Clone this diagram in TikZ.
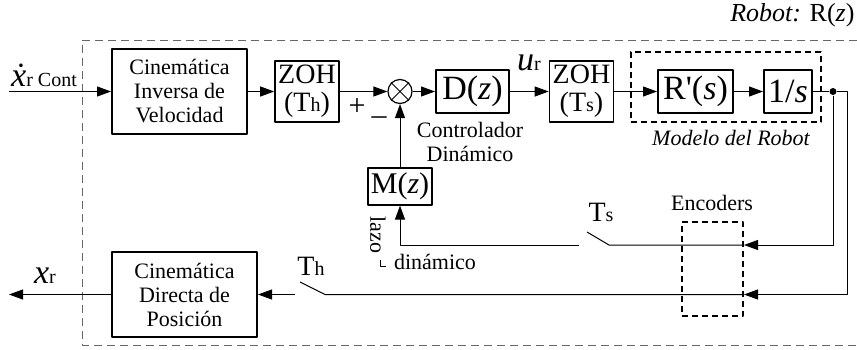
\documentclass[tikz,border=0pt]{standalone}
\usepackage{fontspec}
\setmainfont{Liberation Serif}
\usetikzlibrary{arrows.meta}
\newcommand{\lowtxt}[1]{{\fontsize{10}{10}\selectfont #1}}
\begin{document}
\begin{tikzpicture}[x=0.5pt, y=-0.5pt, line join=round, line width=0.5pt, >={Triangle[length=7pt,width=5pt]},
	txt/.style={font=\fontsize{11}{12}\selectfont, inner sep=1pt, align=center},
	blk/.style={draw, line width=1pt, inner sep=0pt, align=center},
	zoh/.style={blk, line width=0.8pt, minimum width=32pt, minimum height=30.5pt, font=\fontsize{14}{14}\selectfont},
	tf/.style={blk, minimum height=21.5pt, font=\fontsize{17}{17}\selectfont},
	dbox/.style={draw, dashed, dash pattern=on 3pt off 2pt, line width=1pt, inner sep=0pt}]
	\def\ya{91.5}
	\def\yb{245}
	\def\yc{294.5}
	\useasboundingbox (0,0) rectangle (857,349);
	\draw[black!60, dash pattern=on 4pt off 2.5pt] (857,40) -- (82,40) -- (82,345) -- (857,345);
	\node[txt, anchor=east, font=\fontsize{13}{13}\selectfont] (robot) at (857,15) {\textit{Robot:} R(\textit{z})};
	\node[blk, txt, minimum width=67.5pt, minimum height=42.5pt] (inv) at (179.5,\ya) {Cinemática\\Inversa de\\Velocidad};
	\node[zoh] (zohh) at (307,\ya) {ZOH\\(T\lowtxt{h})};
	\node[draw, circle, minimum size=12pt, inner sep=0pt, line width=0.6pt] (sum) at (400,\ya) {};
	\foreach \a in {45,135}
	\draw (sum.\a) -- (sum.\a+180);
	\node[tf, minimum width=36.5pt] (dz) at (472.5,\ya) {D(\textit{z})};
	\node[zoh] (zohs) at (581.5,\ya) {ZOH\\(T\lowtxt{s})};
	\node[dbox, minimum width=95pt, minimum height=35pt] (modelo) at (726,87) {};
	\node[tf, minimum width=37.5pt] (rp) at (695.5,\ya) {R\textquotesingle(\textit{s})};
	\node[tf, minimum width=24pt] (integ) at (788,\ya) {1/\textit{s}};
	\node[circle, fill, minimum size=3.5pt, inner sep=0pt] (dot) at (833,\ya) {};
	\node[blk, line width=0.6pt, minimum width=32pt, minimum height=18.5pt, font=\fontsize{15}{15}\selectfont] (mz) at (400,186.5) {M(\textit{z})};
	\node[dbox, minimum width=30.5pt, minimum height=47pt] (enc) at (712.5,269) {};
	\node[blk, txt, minimum width=72.5pt, minimum height=42.5pt] (dir) at (184.5,\yc) {Cinemática\\Directa de\\Posición};
	\coordinate (in) at (9,\ya);
	\coordinate (out) at (9,\yc);
	\coordinate (c1) at (847,\ya);
	\coordinate (e1) at (enc.east |- 0,\yb);
	\coordinate (e2) at (enc.east |- 0,\yc);
	\coordinate (tsr) at (609,\yb);
	\coordinate (tsb) at (587,232);
	\coordinate (tsl) at (579,\yb);
	\coordinate (thr) at (325,\yc);
	\coordinate (thb) at (300,282);
	\coordinate (thl) at (295,\yc);
	\draw[->] (in) -- (inv);
	\draw[->] (inv) -- (zohh);
	\draw[->] (zohh) -- (sum);
	\draw[->] (sum) -- (dz);
	\draw[->] (dz) -- (zohs);
	\draw[->] (zohs) -- (rp);
	\draw[->] (rp) -- (integ);
	\draw (integ) -- (dot);
	\draw[->] (dot) |- (e1);
	\draw[->] (dot) -- (c1) |- (e2);
	\draw (e1) -- (tsr) -- (tsb);
	\draw[->] (tsl) -| (mz);
	\draw[->] (mz) -- (sum);
	\draw (e2) -- (thr) -- (thb);
	\draw[->] (thl) -- (dir);
	\draw[->] (dir) -- (out);
	\node[txt] (xin) at (44,75) {{\fontsize{17}{17}\selectfont\textit{\.x}}\lowtxt{r Cont}};
	\node[txt] (xout) at (45,276) {{\fontsize{17}{17}\selectfont\textit{x}}\lowtxt{r}};
	\node[txt] (ur) at (529,63) {{\fontsize{17}{17}\selectfont\textit{u}}\lowtxt{r}};
	\node[txt, font=\fontsize{15}{15}\selectfont] (plus) at (357,107) {+};
	\node[txt, font=\fontsize{15}{15}\selectfont] (minus) at (379,121) {\textendash};
	\node[txt] (ctrl) at (470,142) {Controlador\\Dinámico};
	\node[txt, font=\fontsize{11}{12}\selectfont\itshape] (mlabel) at (731,138) {Modelo del Robot};
	\node[txt] (enclabel) at (712,203) {Encoders};
	\node[txt, font=\fontsize{14}{14}\selectfont] (ts) at (601,212) {T\lowtxt{s}};
	\node[txt, font=\fontsize{14}{14}\selectfont] (th) at (311,266) {T\lowtxt{h}};
	\node[txt, rotate=-90] (lazo) at (378,235) {lazo};
	\node[txt] (din) at (435,262) {dinámico};
	\draw (380,260) -- (380,266) -- (386,266);
\end{tikzpicture}
\end{document}
